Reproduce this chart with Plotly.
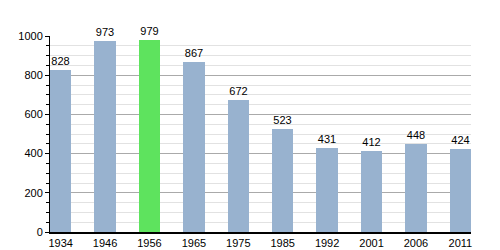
import plotly.graph_objects as go

years = ["1934", "1946", "1956", "1965", "1975", "1985", "1992", "2001", "2006", "2011"]
population = [828, 973, 979, 867, 672, 523, 431, 412, 448, 424]
highlight_year = "1956"

blue = "#98b2cf"
green = "#5ee35e"
colors = [green if y == highlight_year else blue for y in years]

fig = go.Figure(go.Bar(
    x=years, y=population,
    marker=dict(color=colors, line=dict(width=0)),
    width=0.48,
    text=[str(v) for v in population],
    textposition="outside",
    textfont=dict(family="Liberation Sans, Arial, sans-serif", size=11, color="#000"),
    cliponaxis=False,
))

fig.update_layout(
    width=500, height=250,
    margin=dict(l=50, r=29, t=36, b=18, autoexpand=False),
    paper_bgcolor="white", plot_bgcolor="white",
    showlegend=False,
    font=dict(family="Liberation Sans, Arial, sans-serif", size=11, color="#000"),
    bargap=0,
)
fig.update_xaxes(
    type="category", range=[-0.24, 9.24], automargin=False,
    showline=True, linecolor="#000", linewidth=1.5,
    ticks="", showgrid=False, tickfont=dict(size=11),
)
fig.update_yaxes(
    range=[0, 1000], dtick=200, automargin=False,
    showline=True, linecolor="#000", linewidth=1,
    ticks="outside", ticklen=4, tickcolor="#000",
    showgrid=True, gridcolor="#aaaaaa", gridwidth=1,
    zeroline=False,
    minor=dict(dtick=50, showgrid=True, gridcolor="#e2e2e2", ticks="outside", ticklen=3, tickcolor="#000"),
    tickfont=dict(size=11),
)

fig.write_html("out.html")
